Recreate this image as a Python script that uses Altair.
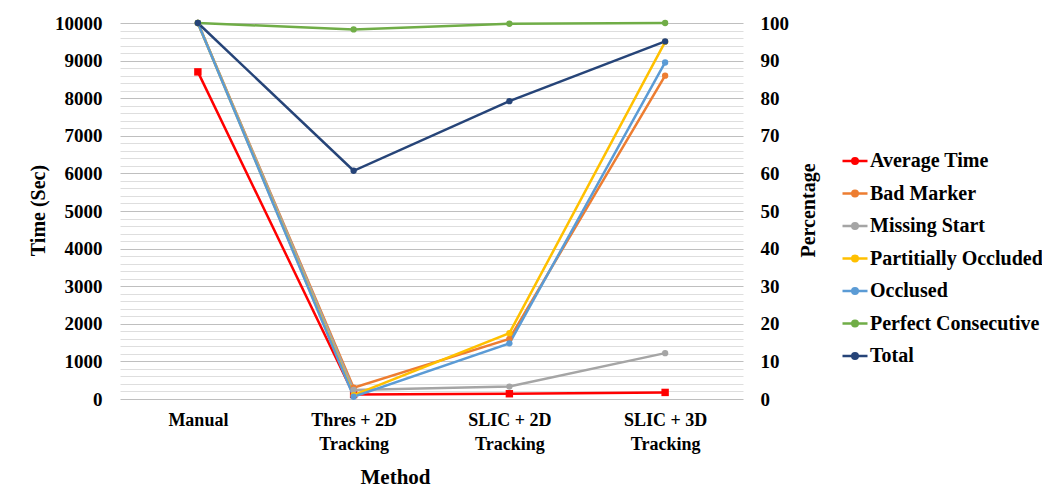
import altair as alt
import pandas as pd

methods = ["Manual", "Thres + 2D Tracking", "SLIC + 2D Tracking", "SLIC + 3D Tracking"]
series_names = ["Average Time", "Bad Marker", "Missing Start", "Partitially Occluded",
                "Occlused", "Perfect Consecutive", "Total"]
series_colors = ["#FF0000", "#ED7D31", "#A5A5A5", "#FFC000", "#5B9BD5", "#70AD47", "#264478"]

average_time = [8700, 120, 140, 175]
bad_marker = [100, 3.0, 16.0, 86.0]
missing_start = [100, 2.4, 3.3, 12.2]
partially_occluded = [100, 1.0, 17.5, 95.0]
occlused = [100, 0.6, 14.8, 89.5]
perfect_consecutive = [100, 98.3, 99.8, 100]
total = [100, 60.7, 79.2, 95.1]

time_ticks = list(range(0, 10001, 200))
pct_ticks = list(range(0, 101, 10))

df_time = pd.DataFrame({"Method": methods, "Series": "Average Time", "Value": average_time})
pct_series = {
    "Bad Marker": bad_marker,
    "Missing Start": missing_start,
    "Partitially Occluded": partially_occluded,
    "Occlused": occlused,
    "Perfect Consecutive": perfect_consecutive,
    "Total": total,
}
df_pct = pd.concat(
    [pd.DataFrame({"Method": methods, "Series": k, "Value": v}) for k, v in pct_series.items()],
    ignore_index=True,
)

FONT = "Liberation Serif"
LEGEND_PATH = "M-1,0L1,0M-0.22,0a0.22,0.22 0 1,0 0.44,0a0.22,0.22 0 1,0 -0.44,0"

legend = alt.Legend(
    title=None, orient="none", legendX=721, legendY=124,
    symbolType=LEGEND_PATH, symbolSize=625, symbolStrokeWidth=2.5,
    labelFont=FONT, labelFontSize=20, labelFontWeight="bold", labelColor="black",
    rowPadding=8.5, labelOffset=1, labelLimit=400,
)
color = alt.Color("Series:N", scale=alt.Scale(domain=series_names, range=series_colors),
                  sort=series_names, legend=legend)

x_enc = alt.X(
    "Method:N", sort=methods, scale=alt.Scale(type="point", padding=0.5),
    axis=alt.Axis(
        title="Method", labelAngle=0, labelOverlap=False,
        labelExpr="indexof(datum.label, ' Tracking') > 0 ? [replace(datum.label, ' Tracking', ''), 'Tracking'] : datum.label",
        labelFont=FONT, labelFontSize=18, labelFontWeight="bold", labelColor="black",
        labelPadding=12, labelBaseline="top", labelLineHeight=24,
        domain=False, ticks=False, grid=False,
        titleFont=FONT, titleFontSize=21, titleFontWeight="bold", titleColor="black",
        titleX=275, titleY=78, titleAlign="center", titleBaseline="middle",
    ),
)

time_layer = alt.Chart(df_time).mark_line(
    strokeWidth=2.5,
    point=alt.OverlayMarkDef(filled=True, shape="square", size=55),
).encode(
    x=x_enc,
    y=alt.Y(
        "Value:Q", scale=alt.Scale(domain=[0, 10000], nice=False),
        axis=alt.Axis(
            orient="left", title="Time (Sec)", values=time_ticks, labelOverlap=False,
            labelExpr="datum.value % 1000 === 0 ? '' + datum.value : ''",
            labelFont=FONT, labelFontSize=19, labelFontWeight="bold", labelColor="black",
            labelPadding=18, domain=False, ticks=False,
            grid=True, gridWidth=1,
            gridColor={"condition": {"test": "datum.value % 1000 === 0", "value": "#BFBFBF"},
                       "value": "#DEDEDE"},
            titleFont=FONT, titleFontSize=20, titleFontWeight="bold", titleColor="black",
            titleAngle=270, titleX=-82, titleY=187, titleAlign="center", titleBaseline="middle",
        ),
    ),
    color=color,
)

pct_layer = alt.Chart(df_pct).mark_line(
    strokeWidth=2.5,
    point=alt.OverlayMarkDef(filled=True, shape="circle", size=40),
).encode(
    x=x_enc,
    y=alt.Y(
        "Value:Q", scale=alt.Scale(domain=[0, 100], nice=False),
        axis=alt.Axis(
            orient="right", title="Percentage", values=pct_ticks, labelOverlap=False,
            labelFont=FONT, labelFontSize=19, labelFontWeight="bold", labelColor="black",
            labelPadding=17, domain=False, ticks=False, grid=False,
            titleFont=FONT, titleFontSize=20, titleFontWeight="bold", titleColor="black",
            titleAngle=270, titleX=65, titleY=187, titleAlign="center", titleBaseline="middle",
        ),
    ),
    color=color,
)

chart = alt.layer(time_layer, pct_layer).resolve_scale(y="independent").properties(
    width=623, height=376,
    autosize=alt.AutoSizeParams(type="none"),
    padding={"left": 112, "top": 15, "right": 299, "bottom": 94},
    background="white",
).configure_view(stroke=None)

chart.save("out.html", embed_options={"renderer": "svg", "actions": False})
